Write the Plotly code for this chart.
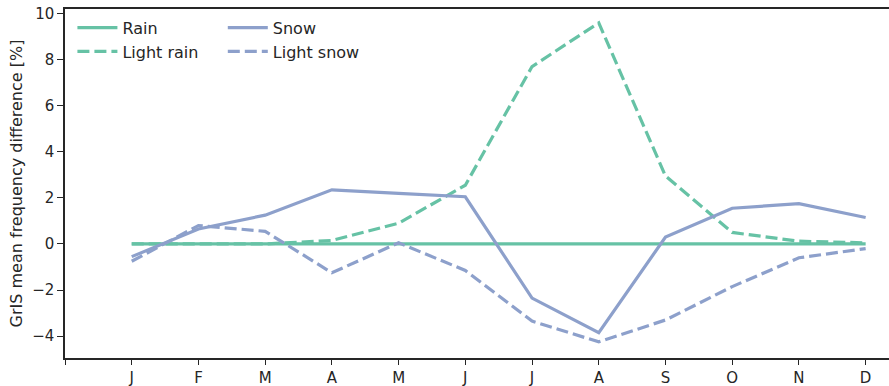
import plotly.graph_objects as go

months = ["J", "F", "M", "A", "M", "J", "J", "A", "S", "O", "N", "D"]
month_pos = [1, 2, 3, 4, 5, 6, 7, 8, 9, 10, 11, 12]
rain = [0, 0, 0, 0, 0, 0, 0, 0, 0, 0, 0, 0]
light_rain = [0.0, 0.0, 0.0, 0.15, 0.9, 2.55, 7.7, 9.6, 2.95, 0.5, 0.12, 0.05]
snow = [-0.55, 0.65, 1.25, 2.35, 2.2, 2.05, -2.35, -3.85, 0.3, 1.55, 1.75, 1.15]
light_snow = [-0.75, 0.8, 0.55, -1.25, 0.05, -1.15, -3.35, -4.25, -3.3, -1.85, -0.6, -0.2]
y_ticks = [-4, -2, 0, 2, 4, 6, 8, 10]

green = "#66c2a5"
blue = "#8da0cb"
dash = "12px,5px"
font = "DejaVu Sans"

fig = go.Figure()
fig.add_trace(go.Scatter(x=month_pos, y=rain, mode="lines", name="Rain",
                         line=dict(color=green, width=3.2), legend="legend"))
fig.add_trace(go.Scatter(x=month_pos, y=light_rain, mode="lines", name="Light rain",
                         line=dict(color=green, width=3.2, dash=dash), legend="legend"))
fig.add_trace(go.Scatter(x=month_pos, y=snow, mode="lines", name="Snow",
                         line=dict(color=blue, width=3.2), legend="legend2"))
fig.add_trace(go.Scatter(x=month_pos, y=light_snow, mode="lines", name="Light snow",
                         line=dict(color=blue, width=3.2, dash=dash), legend="legend2"))

axis_col = "#262626"
fig.update_layout(
    width=889, height=386,
    margin=dict(l=65, r=0, t=9, b=28),
    plot_bgcolor="white", paper_bgcolor="white",
    font=dict(family=font, size=15, color=axis_col),
    showlegend=True,
    legend=dict(x=0.009, y=0.995, xanchor="left", yanchor="top",
                bgcolor="rgba(0,0,0,0)", font=dict(size=16, color=axis_col),
                tracegroupgap=0, itemwidth=40),
    legend2=dict(x=0.1915, y=0.995, xanchor="left", yanchor="top",
                 bgcolor="rgba(0,0,0,0)", font=dict(size=16, color=axis_col),
                 tracegroupgap=0, itemwidth=40),
    xaxis=dict(range=[0, 12.35], tickvals=[0] + month_pos, ticktext=[""] + months,
               showline=True, linecolor=axis_col, linewidth=1.5, mirror=True,
               ticks="outside", ticklen=5, tickwidth=1.2, tickcolor=axis_col,
               showgrid=False, zeroline=False, tickfont=dict(size=15), automargin=False),
    yaxis=dict(range=[-4.95, 10.2], tickvals=y_ticks,
               showline=True, linecolor=axis_col, linewidth=1.5,
               ticks="outside", ticklen=6, tickwidth=1.2, tickcolor=axis_col,
               showgrid=False, zeroline=False, tickfont=dict(size=15), automargin=False,
               title=dict(text="GrIS mean frequency difference [%]", font=dict(size=16), standoff=6)),
)
fig.write_html("out.html", config={"displayModeBar": False},
               post_script="document.body.style.margin='0px';")
